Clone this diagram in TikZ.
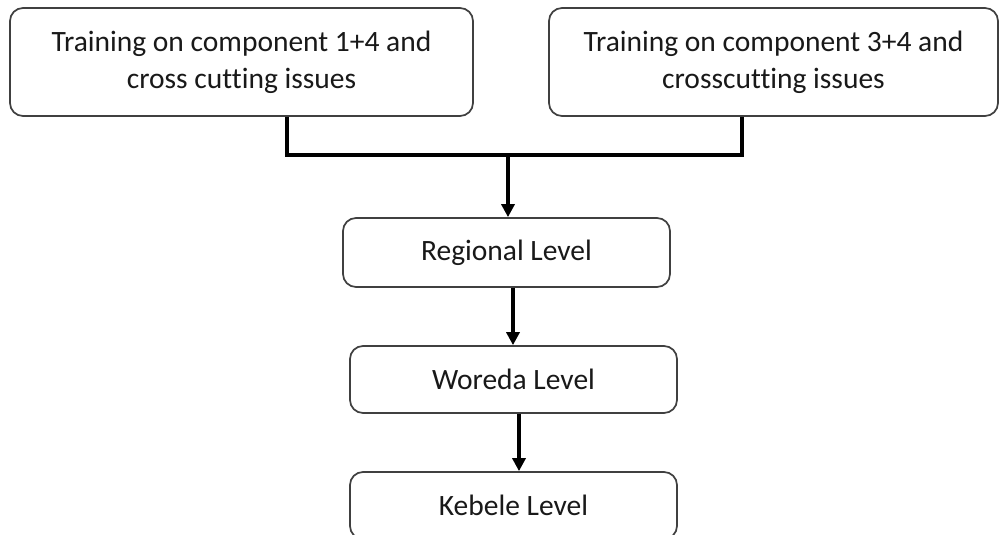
\documentclass[tikz,border=0pt]{standalone}
\usepackage{fontspec}
\setmainfont{Carlito}[Ligatures=NoCommon]
\usetikzlibrary{arrows.meta,calc}
\begin{document}
\begin{tikzpicture}[x=1pt,y=-1pt,
  box/.style={draw=black!75,line width=1.7pt,rounded corners=13pt,fill=white,
    align=center,inner sep=0pt,text=black!90,
    font=\fontsize{29.5}{37}\selectfont},
  link/.style={line width=3.2pt,black},
  arr/.style={link,-{Triangle[length=13pt,width=13pt]}}]
\useasboundingbox (0,0) rectangle (999,535);
\clip (0,0) rectangle (999,535);
\fill[white] (0,0) rectangle (999,535);

% training boxes
\node[box,minimum width=463pt,minimum height=108pt] (tr1) at (241.5,62)
  {Training on component 1+4 and\\cross cutting issues};
\node[box,minimum width=449pt,minimum height=108pt] (tr2) at (773.5,62)
  {Training on component 3+4 and\\crosscutting issues};

% level boxes
\node[box,minimum width=327pt,minimum height=69pt] (reg) at (506.5,252.5) {Regional Level};
\node[box,minimum width=327pt,minimum height=67pt] (wor) at (513.5,379.5) {Woreda Level};
\node[box,minimum width=327pt,minimum height=67pt] (keb) at (513.5,505.5) {Kebele Level};

% joining bar between the training boxes
\coordinate (j1) at (287,155);
\coordinate (j2) at (742,155);
\coordinate (jm) at (508,155);
\draw[link,line join=miter] (j1 |- tr1.south) -- (j1) -- (j2) -- (j2 |- tr2.south);
\draw[arr] (jm) -- (jm |- reg.north);

% level flow
\coordinate (a1) at (513,0);
\coordinate (a2) at (519,0);
\draw[arr] (a1 |- reg.south) -- (a1 |- wor.north);
\draw[arr] (a2 |- wor.south) -- (a2 |- keb.north);
\end{tikzpicture}
\end{document}
